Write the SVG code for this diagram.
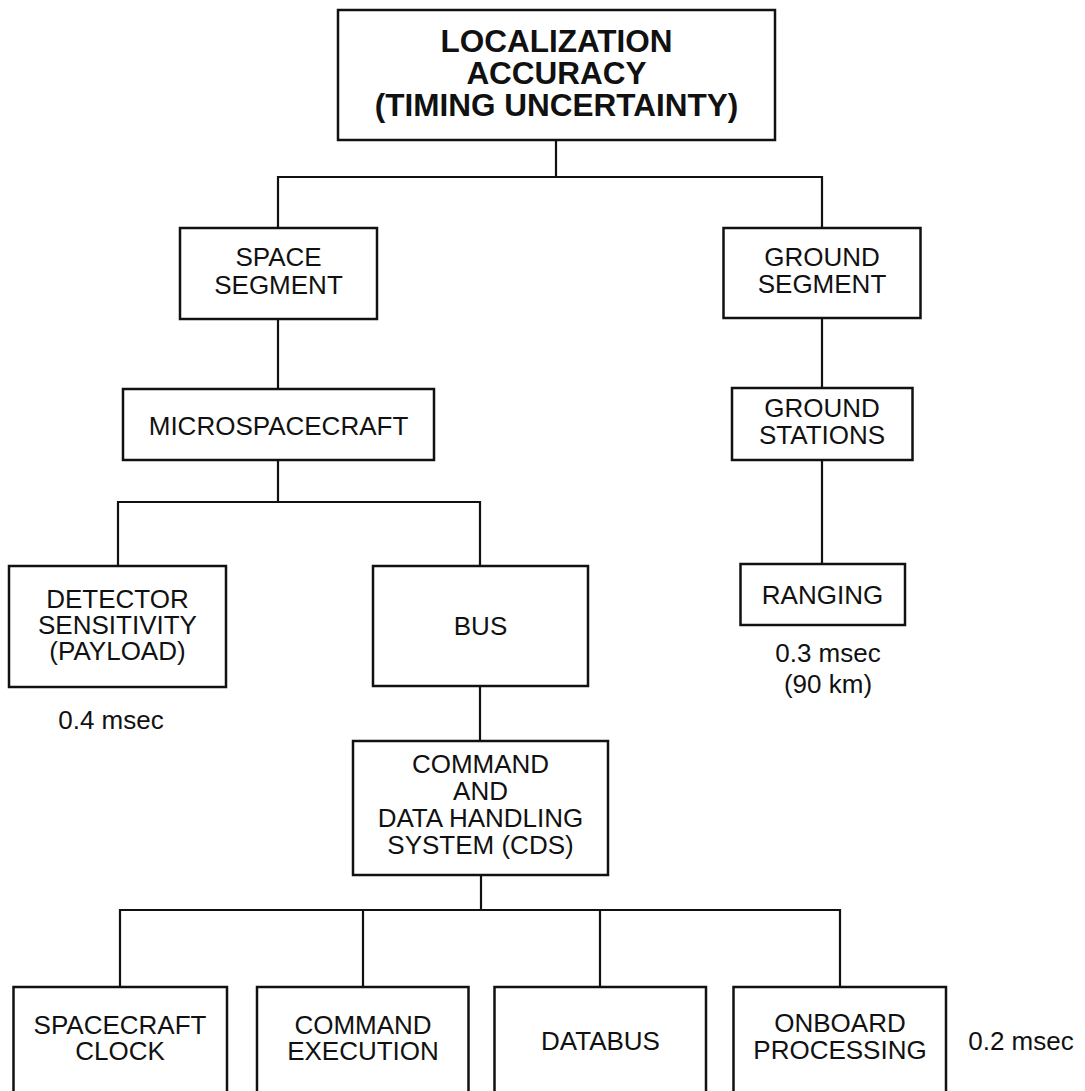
<svg xmlns="http://www.w3.org/2000/svg" width="1085" height="1091" viewBox="0 0 1085 1091">
  <style>
    .box { fill: #ffffff; stroke: #111111; stroke-width: 2.5; }
    .wire { fill: none; stroke: #111111; stroke-width: 2.2; }
    .lbl { font-family: "Liberation Sans", Arial, Helvetica, sans-serif; font-size: 26px; fill: #111111; text-anchor: middle; }
    .title { font-family: "Liberation Sans", Arial, Helvetica, sans-serif; font-size: 31.5px; font-weight: bold; fill: #111111; text-anchor: middle; }
    .note { font-family: "Liberation Sans", Arial, Helvetica, sans-serif; font-size: 26px; fill: #111111; text-anchor: middle; }
  </style>
  <rect width="1085" height="1091" fill="#ffffff"/>

  <!-- tree connectors -->
  <g id="connectors">
    <path class="wire" d="M556 140 V177 M278 228 V177 H822 V228"/>
    <path class="wire" d="M278 319 V389"/>
    <path class="wire" d="M278 460 V502 M118 566 V502 H480 V566"/>
    <path class="wire" d="M480 686 V741"/>
    <path class="wire" d="M822 318 V388"/>
    <path class="wire" d="M822 460 V564"/>
    <path class="wire" d="M481 875 V910 M120 987 V910 H840 V987 M363 910 V987 M600 910 V987"/>
  </g>

  <g id="localization-accuracy">
    <rect class="box" x="338" y="10" width="437" height="130"/>
    <text class="title" x="556.5" y="52">LOCALIZATION</text>
    <text class="title" x="556.5" y="84">ACCURACY</text>
    <text class="title" x="556.5" y="116">(TIMING UNCERTAINTY)</text>
  </g>

  <g id="space-segment">
    <rect class="box" x="180" y="228" width="197" height="91"/>
    <text class="lbl" x="278.5" y="266">SPACE</text>
    <text class="lbl" x="278.5" y="293.5">SEGMENT</text>
  </g>

  <g id="ground-segment">
    <rect class="box" x="723.5" y="228" width="197" height="90"/>
    <text class="lbl" x="822" y="266">GROUND</text>
    <text class="lbl" x="822" y="293">SEGMENT</text>
  </g>

  <g id="microspacecraft">
    <rect class="box" x="123" y="389" width="311" height="71"/>
    <text class="lbl" x="278.5" y="435">MICROSPACECRAFT</text>
  </g>

  <g id="ground-stations">
    <rect class="box" x="732" y="388" width="180.5" height="72"/>
    <text class="lbl" x="822" y="417">GROUND</text>
    <text class="lbl" x="822" y="444">STATIONS</text>
  </g>

  <g id="detector-sensitivity">
    <rect class="box" x="9" y="566" width="217" height="121"/>
    <text class="lbl" x="117.5" y="608">DETECTOR</text>
    <text class="lbl" x="117.5" y="634">SENSITIVITY</text>
    <text class="lbl" x="117.5" y="660">(PAYLOAD)</text>
    <text class="note" x="111" y="729">0.4 msec</text>
  </g>

  <g id="bus">
    <rect class="box" x="373" y="566" width="215" height="120"/>
    <text class="lbl" x="480.5" y="635">BUS</text>
  </g>

  <g id="ranging">
    <rect class="box" x="740.5" y="564" width="164.5" height="61"/>
    <text class="lbl" x="822.5" y="604">RANGING</text>
    <text class="note" x="828" y="662">0.3 msec</text>
    <text class="note" x="828" y="693">(90 km)</text>
  </g>

  <g id="cds">
    <rect class="box" x="353" y="741" width="255" height="134"/>
    <text class="lbl" x="480.5" y="773">COMMAND</text>
    <text class="lbl" x="480.5" y="800">AND</text>
    <text class="lbl" x="480.5" y="827">DATA HANDLING</text>
    <text class="lbl" x="480.5" y="854">SYSTEM (CDS)</text>
  </g>

  <g id="spacecraft-clock">
    <rect class="box" x="13.5" y="987" width="213.5" height="120"/>
    <text class="lbl" x="120" y="1034">SPACECRAFT</text>
    <text class="lbl" x="120" y="1060">CLOCK</text>
  </g>

  <g id="command-execution">
    <rect class="box" x="257" y="987" width="211.5" height="120"/>
    <text class="lbl" x="363" y="1034">COMMAND</text>
    <text class="lbl" x="363" y="1060">EXECUTION</text>
  </g>

  <g id="databus">
    <rect class="box" x="494.5" y="987" width="211.5" height="120"/>
    <text class="lbl" x="600.5" y="1050">DATABUS</text>
  </g>

  <g id="onboard-processing">
    <rect class="box" x="733.5" y="987" width="212.5" height="120"/>
    <text class="lbl" x="840" y="1032">ONBOARD</text>
    <text class="lbl" x="840" y="1059">PROCESSING</text>
    <text class="note" x="1021" y="1050">0.2 msec</text>
  </g>
</svg>
